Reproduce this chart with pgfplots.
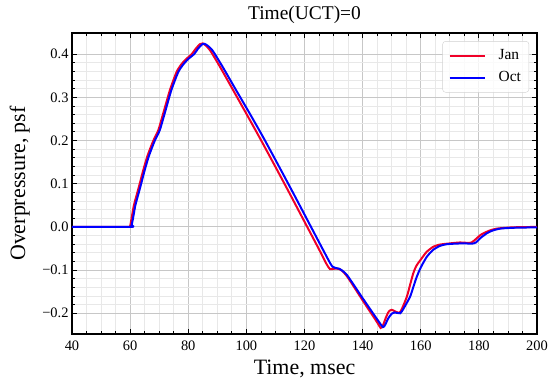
\documentclass[border=0pt]{standalone}
\usepackage{pgfplots}
\pgfplotsset{compat=1.18}
\usepackage{fontspec}
\setmainfont{Liberation Serif}
\begin{document}
\begin{tikzpicture}
\useasboundingbox (-72bp,-57bp) rectangle (487bp,334bp);
\begin{axis}[
  scale only axis,
  width=465bp, height=301bp,
  xmin=40, xmax=200, ymin=-0.248, ymax=0.449,
  xtick={40,60,80,100,120,140,160,180,200},
  ytick={-0.2,-0.1,0,0.1,0.2,0.3,0.4},
  yticklabels={−0.2,−0.1,0.0,0.1,0.2,0.3,0.4},
  minor x tick num=3, minor y tick num=4,
  /pgf/number format/assume math mode=true,
  tick align=inside,
  major tick length=5bp, minor tick length=3bp,
  tick style={black, line width=0.8bp},
  axis line style={black, line width=1.2bp},
  grid=both,
  major grid style={draw=black!22, line width=0.9bp},
  minor grid style={draw=black!9, line width=0.8bp},
  ticklabel style={font=\fontsize{14.5}{16}\selectfont},
  xticklabel style={anchor=base, yshift=-16.5bp},
  title={Time(UCT)=0},
  title style={font=\fontsize{19.5}{22}\selectfont, anchor=base, at={(axis description cs:0.5,1.0266)}},
  xlabel={Time, msec},
  xlabel style={font=\fontsize{22}{24}\selectfont, anchor=base, at={(axis description cs:0.5,-0.1362)}},
  ylabel={Overpressure, psf},
  ylabel style={font=\fontsize{22}{24}\selectfont, anchor=base, rotate=0, at={(axis description cs:-0.101,0.5)}},
  legend style={at={(axis description cs:0.983,0.973)}, anchor=north east,
    draw=black!18, rounded corners=3bp, fill=white, fill opacity=0.8, text opacity=1,
    font=\fontsize{15.5}{17}\selectfont, inner xsep=6bp, inner ysep=7bp, row sep=7bp, column sep=11bp,
    nodes={inner xsep=2bp, inner ysep=0bp, text height=11bp, text depth=4bp}},
  legend cell align=left,
  legend image code/.code={\draw[#1] (0bp,0bp) -- (35bp,0bp);},
]
\addplot[color={rgb,255:red,240;green,0;blue,40}, line width=2bp, smooth, tension=0.4] coordinates {
(40,0) (59.5,0) (60,0.002) (60.5,0.02) (61.3,0.05) (62.3,0.075) (63.3,0.10) (64.5,0.131) (66,0.165) (68,0.2) (69.7,0.224) (71.4,0.263) (73.7,0.317) (76,0.359) (77.8,0.378) (79.5,0.39) (81.2,0.40) (82.5,0.412) (84,0.423) (85,0.425) (86,0.420) (87.5,0.409) (90.9,0.371) (95,0.322) (100,0.262) (104.7,0.205) (110,0.139) (115,0.076) (120,0.012) (125,-0.052) (127.5,-0.085) (128.8,-0.098) (130,-0.097) (131.6,-0.097) (133,-0.102) (135,-0.118) (140,-0.170) (145,-0.221) (146.2,-0.234) (147,-0.228) (148,-0.21) (149,-0.196) (150,-0.192) (151,-0.195) (152.6,-0.199) (153.5,-0.19) (155.2,-0.162) (156.3,-0.135) (157.4,-0.108) (158.5,-0.09) (160.3,-0.073) (162,-0.058) (164.3,-0.046) (166.5,-0.041) (168.9,-0.039) (173.5,-0.036) (176,-0.037) (177.5,-0.036) (179,-0.028) (180.5,-0.019) (181.5,-0.015) (183.5,-0.009) (186.1,-0.004) (191.9,-0.001) (200,0)
};
\addlegendentry{Jan}
\addplot[color={rgb,255:red,0;green,0;blue,255}, line width=2bp, smooth, tension=0.4] coordinates {
(40,0) (60,0) (60.5,0.004) (61,0.02) (61.8,0.05) (62.8,0.075) (63.8,0.10) (65,0.131) (66.5,0.165) (68.5,0.2) (70.2,0.224) (71.9,0.263) (74.2,0.317) (76.6,0.359) (78.5,0.378) (80.2,0.39) (82,0.40) (83.4,0.413) (84.8,0.423) (85.6,0.424) (86.6,0.420) (88.3,0.409) (91.8,0.371) (96,0.322) (101.2,0.262) (106,0.205) (111.3,0.139) (116.3,0.076) (121.3,0.012) (126.3,-0.052) (128.5,-0.080) (129.6,-0.092) (130.6,-0.095) (132,-0.097) (133.5,-0.104) (135,-0.115) (140,-0.165) (145,-0.214) (147,-0.232) (147.8,-0.226) (148.8,-0.212) (150,-0.201) (151,-0.198) (152.9,-0.200) (154,-0.19) (156.3,-0.162) (157.5,-0.138) (158.6,-0.116) (160,-0.094) (162.1,-0.069) (164.3,-0.053) (166.6,-0.044) (169,-0.040) (171.2,-0.039) (175,-0.038) (177.5,-0.039) (179,-0.036) (180.5,-0.026) (182.7,-0.015) (184.5,-0.009) (187.3,-0.004) (192,-0.002) (200,-0.001)
};
\addlegendentry{Oct}
\end{axis}
\end{tikzpicture}
\end{document}
